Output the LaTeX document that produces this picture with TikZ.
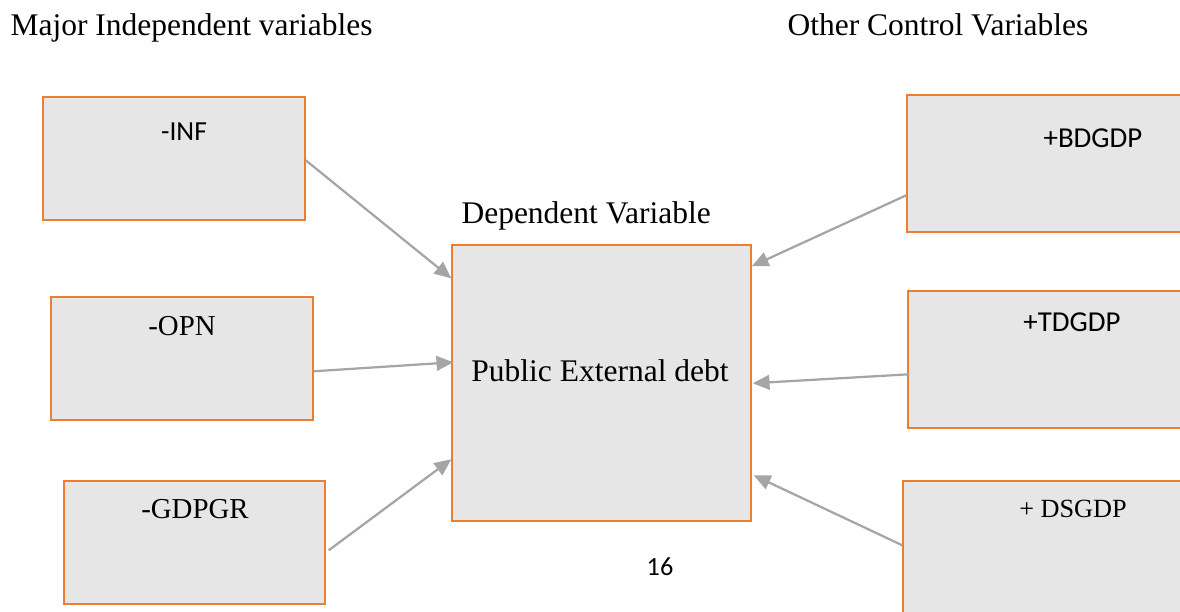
\documentclass[tikz,border=0pt]{standalone}
\usepackage{fontspec}
\setmainfont{Liberation Serif}
\newfontfamily\bodysans{Carlito}
\usepackage{tikz}
\usetikzlibrary{calc}
\usetikzlibrary{arrows.meta}
\usetikzlibrary{positioning}
\definecolor{varorange}{RGB}{237,125,49}
\definecolor{vargray}{RGB}{230,230,230}
\definecolor{effgray}{RGB}{165,165,165}
\newcommand{\pxu}{0.381pt}
\tikzset{>=latex}
\tikzstyle{var} = [rectangle, draw=varorange, fill=vargray, line width=0.55pt, inner sep=0]
\tikzstyle{lbl} = [inner sep=0, anchor=base, text=black]
\tikzstyle{eff} = [-{Triangle[length=6.4pt,width=5.6pt]}, draw=effgray, fill=effgray, line width=0.85pt]

\begin{document}
\begin{tikzpicture}[x=\pxu, y=-\pxu]
\useasboundingbox (0, 0) rectangle (1180, 612);
% headings
\node [lbl, anchor=base west] (major) at (10, 35) {\fontsize{12pt}{14pt}\selectfont Major Independent variables};
\node [lbl, anchor=base west] (other) at (787, 35) {\fontsize{12pt}{14pt}\selectfont Other Control Variables};
\node [lbl, anchor=base west] (deplbl) at (461, 223) {\fontsize{12pt}{14pt}\selectfont Dependent Variable};
% boxes
\node [var, minimum width=262*\pxu, minimum height=123*\pxu] (inf) at (174, 158.5) {};
\node [var, minimum width=262*\pxu, minimum height=123*\pxu] (opn) at (182, 358.5) {};
\node [var, minimum width=261*\pxu, minimum height=123*\pxu] (gdpgr) at (194.5, 542.5) {};
\node [var, minimum width=299*\pxu, minimum height=276*\pxu] (dep) at (601.5, 383) {};
\node [var, minimum width=283*\pxu, minimum height=137*\pxu] (bdgdp) at (1048.5, 163.5) {};
\node [var, minimum width=282*\pxu, minimum height=137*\pxu] (tdgdp) at (1049, 359.5) {};
\node [var, minimum width=287*\pxu, minimum height=139*\pxu] (dsgdp) at (1046.5, 550.5) {};
% box texts
\node [lbl] (inftxt) at (184, 140) {\bodysans\fontsize{10.5pt}{12pt}\selectfont -INF};
\node [lbl] (opntxt) at (182, 335) {\fontsize{11pt}{13pt}\selectfont -OPN};
\node [lbl] (gdpgrtxt) at (195, 518) {\fontsize{11pt}{13pt}\selectfont -GDPGR};
\node [lbl] (deptxt) at (600, 381) {\fontsize{12pt}{14pt}\selectfont Public External debt};
\node [lbl] (bdgdptxt) at (1093, 147) {\bodysans\fontsize{11pt}{13pt}\selectfont +BDGDP};
\node [lbl] (tdgdptxt) at (1072, 331) {\bodysans\fontsize{11pt}{13pt}\selectfont +TDGDP};
\node [lbl] (dsgdptxt) at (1073, 517) {\fontsize{10pt}{12pt}\selectfont + DSGDP};
\node [lbl] (pagenum) at (660, 575) {\bodysans\fontsize{10pt}{12pt}\selectfont 16};
% effects
\draw [eff] ($(inf.north east)+(0,64)$) to ($(dep.north west)+(0,34)$);
\draw [eff] ($(opn.north east)+(0,75)$) to ($(dep.north west)+(2,118)$);
\draw [eff] ($(gdpgr.north east)+(3,70)$) to ($(dep.north west)+(0,215)$);
\draw [eff] ($(bdgdp.north west)+(0,101)$) to ($(dep.north east)+(0,22)$);
\draw [eff] ($(tdgdp.north west)+(2,84)$) to ($(dep.north east)+(1,139)$);
\draw [eff] ($(dsgdp.north west)+(0,65)$) to ($(dep.north east)+(2,231)$);
\end{tikzpicture}
\end{document}
